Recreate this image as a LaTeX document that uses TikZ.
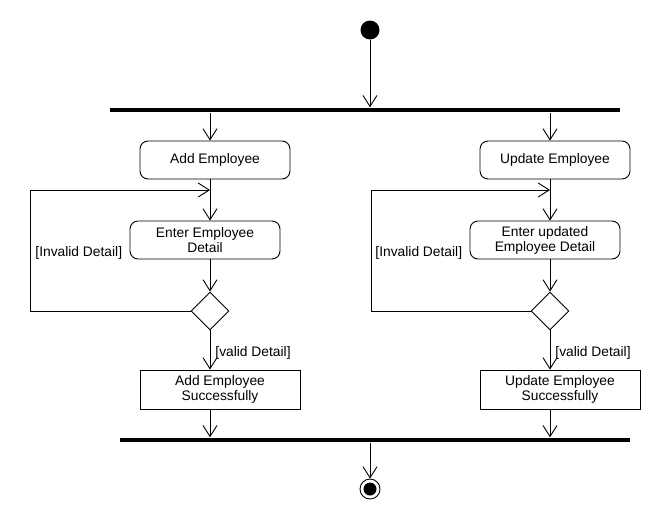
\documentclass[tikz,border=0pt]{standalone}
\usepackage{fontspec}
\setmainfont{Liberation Sans}
\usepackage{tikz}
\usetikzlibrary{arrows.meta,shapes.geometric,positioning}
\tikzset{>={Straight Barb[length=11pt,width=14pt,line width=0.9pt]}}
\tikzset{activity/.style={draw,rounded corners=8pt,minimum width=150pt,minimum height=38pt,inner sep=0pt,align=center,font=\fontsize{13.8}{15}\selectfont}}
\tikzset{action/.style={draw,minimum width=160pt,minimum height=39pt,inner sep=0pt,align=center,font=\fontsize{13.8}{15}\selectfont}}
\tikzset{decision/.style={draw,diamond,aspect=1,minimum width=38pt,minimum height=38pt,inner sep=0pt}}
\tikzset{bar/.style={fill,inner sep=0pt,minimum height=4.5pt}}
\tikzset{guard/.style={inner sep=0pt,anchor=west,font=\fontsize{13.8}{15}\selectfont}}

\begin{document}
\begin{tikzpicture}[x=1pt,y=-1pt,line width=0.9pt]
  \useasboundingbox (0,0) rectangle (660,520);
  \coordinate (colL) at (210,0);
  \coordinate (colR) at (550,0);
  \node[fill,circle,minimum size=19pt,inner sep=0pt] (start) at (370,30) {};
  \node[bar,minimum width=510pt] (fork) at (365,110) {};
  \node[bar,minimum width=510pt] (join) at (375,440) {};
  \node[draw,circle,minimum size=20pt,inner sep=0pt] (stop) at (370,489) {};
  \fill (stop) circle (6.5pt);
  \node[activity] (addemp) at (215,160) {Add Employee};
  \node[activity] (enteradd) at (205,240) {Enter Employee\\Detail};
  \node[decision] (decadd) at (210,311) {};
  \node[action] (addok) at (220,389.5) {Add Employee\\Successfully};
  \node[activity] (updemp) at (555,160) {Update Employee};
  \node[activity] (enterupd) at (545,240) {Enter updated\\Employee Detail};
  \node[decision] (decupd) at (550,311) {};
  \node[action] (updok) at (560,389.5) {Update Employee\\Successfully};
  \coordinate (loopadd) at (30,190);
  \coordinate (mergeadd) at (210,190);
  \coordinate (loopupd) at (371,190);
  \coordinate (mergeupd) at (550,190);
  \node[guard] (badadd) at (35,253) {[Invalid Detail]};
  \node[guard] (okadd) at (215,353) {[valid Detail]};
  \node[guard] (badupd) at (375,253) {[Invalid Detail]};
  \node[guard] (okupd) at (555,353) {[valid Detail]};
  \draw[->] (start) -- (start |- fork.north);
  \draw[->] (fork.south -| colL) -- (addemp.north -| colL);
  \draw[->] (addemp.south -| colL) -- (enteradd.north -| colL);
  \draw[->] (enteradd.south -| colL) -- (decadd.north);
  \draw[->] (decadd.south) -- (addok.north -| colL);
  \draw[->] (addok.south -| colL) -- (join.north -| colL);
  \draw[->] (decadd.west) -| (loopadd) -- (mergeadd);
  \draw[->] (fork.south -| colR) -- (updemp.north -| colR);
  \draw[->] (updemp.south -| colR) -- (enterupd.north -| colR);
  \draw[->] (enterupd.south -| colR) -- (decupd.north);
  \draw[->] (decupd.south) -- (updok.north -| colR);
  \draw[->] (updok.south -| colR) -- (join.north -| colR);
  \draw[->] (decupd.west) -| (loopupd) -- (mergeupd);
  \draw[->] (join.south -| stop) -- (stop.north);
\end{tikzpicture}
\end{document}
